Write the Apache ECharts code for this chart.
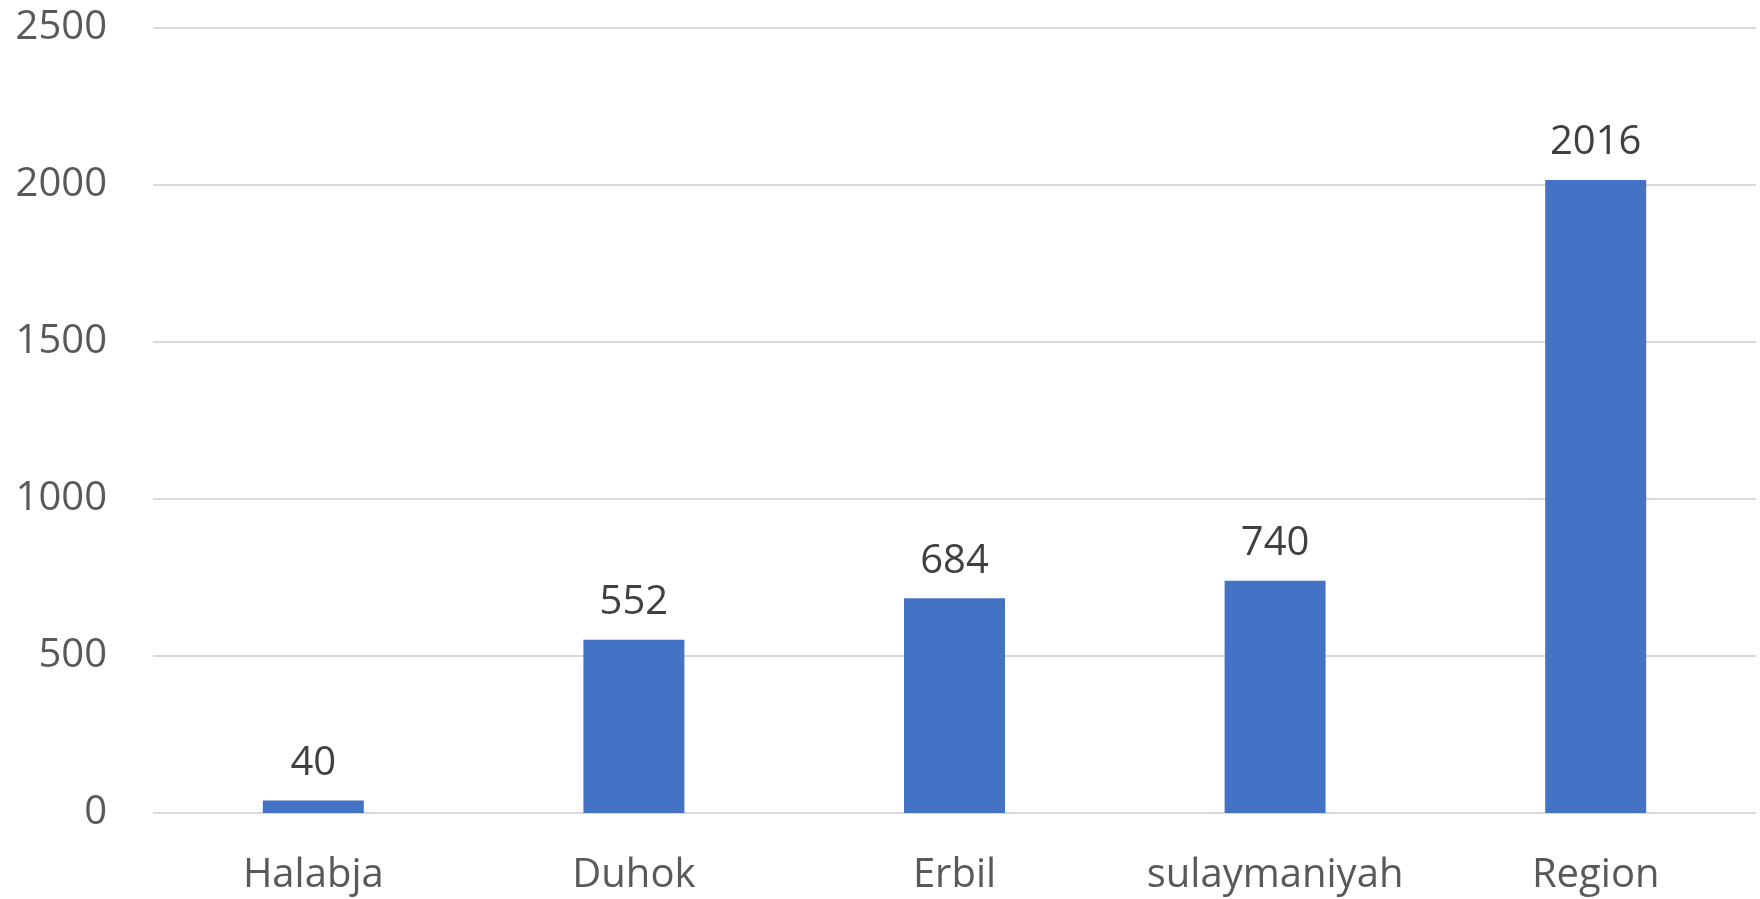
<!DOCTYPE html>
<html><head><meta charset="utf-8">
<script src="https://cdn.jsdelivr.net/npm/echarts@6/dist/echarts.min.js"></script>
<style>html,body{margin:0;padding:0;background:#fff}#c{width:1760px;height:899px}</style>
</head><body><div id="c"></div>
<script>
var categories = ["Halabja", "Duhok", "Erbil", "sulaymaniyah", "Region"];
var values = [40, 552, 684, 740, 2016];
var yTicks = [0, 500, 1000, 1500, 2000, 2500];

var chart = echarts.init(document.getElementById('c'), null, {renderer: 'canvas'});
chart.setOption({
  animation: false,
  grid: {left: 153, right: 4, top: 28, bottom: 86, containLabel: false},
  xAxis: {
    type: 'category', data: categories,
    axisLine: {show: false}, axisTick: {show: false},
    axisLabel: {color: '#595959', fontSize: 40, fontFamily: 'Open Sans', margin: 43, interval: 0, hideOverlap: false}
  },
  yAxis: {
    type: 'value', min: yTicks[0], max: yTicks[yTicks.length - 1], interval: 500,
    axisLine: {show: false}, axisTick: {show: false},
    splitLine: {lineStyle: {color: '#d9d9d9', width: 2}},
    axisLabel: {color: '#595959', fontSize: 40, fontFamily: 'Open Sans', margin: 46,
      formatter: function (v) { return String(v); }}
  },
  series: [{
    type: 'bar', data: values, barWidth: '31.5%',
    itemStyle: {color: '#4472C4'},
    label: {show: true, position: 'top', distance: 17, color: '#404040', fontSize: 40, fontFamily: 'Open Sans'}
  }]
});
</script></body></html>
